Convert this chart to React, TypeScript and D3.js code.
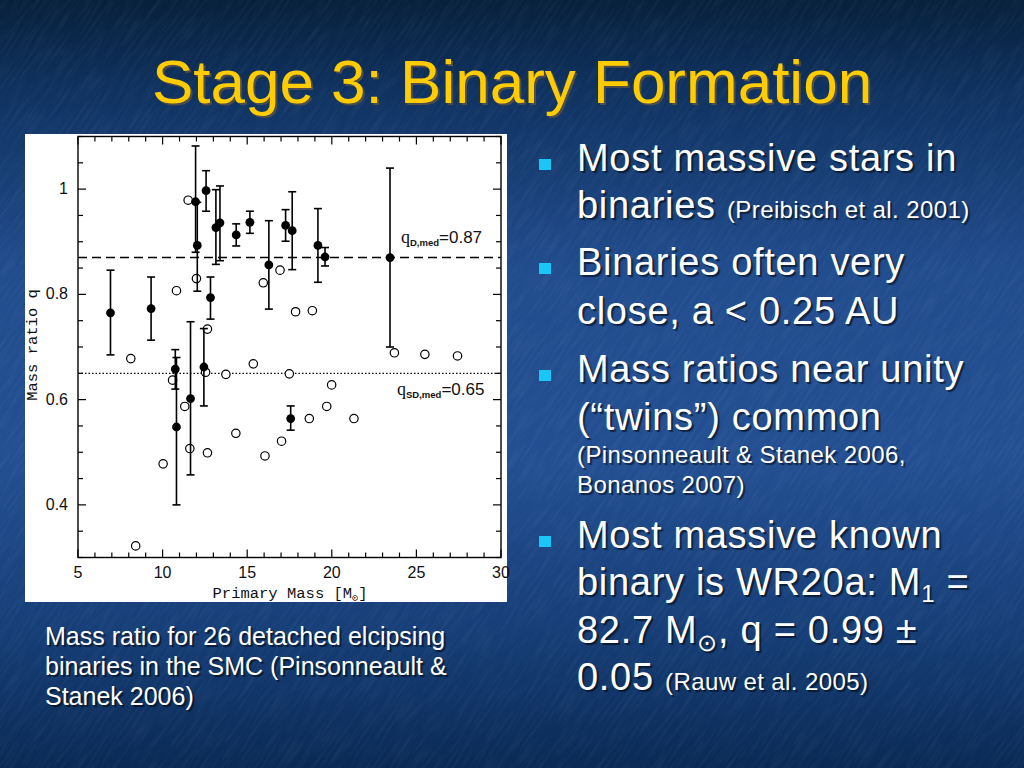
import * as d3 from "d3";

// detached eclipsing binaries with measured q (filled, with error bars)
const filledMass = [6.92, 9.32, 10.75, 10.82, 11.65, 11.95, 12.05, 12.44, 12.57, 12.83, 13.15, 13.39, 14.35, 15.16, 16.28, 17.27, 17.57, 17.66, 19.18, 19.6, 23.44];
const filledQ = [0.765, 0.773, 0.658, 0.548, 0.602, 0.976, 0.893, 0.662, 0.997, 0.794, 0.927, 0.936, 0.913, 0.937, 0.856, 0.931, 0.564, 0.921, 0.893, 0.871, 0.87];
const filledLo = [0.685, 0.713, 0.62, 0.4, 0.457, 0.88, 0.806, 0.588, 0.958, 0.753, 0.857, 0.864, 0.892, 0.916, 0.772, 0.901, 0.542, 0.847, 0.823, 0.854, 0.7];
const filledHi = [0.846, 0.833, 0.695, 0.68, 0.748, 1.082, 0.975, 0.735, 1.035, 0.833, 0.999, 1.006, 0.934, 0.958, 0.94, 0.961, 0.588, 0.995, 0.963, 0.889, 1.04];

// semi-detached systems (open circles)
const openMass = [11.51, 12.0, 10.82, 8.12, 12.65, 15.36, 15.95, 16.94, 17.86, 18.85, 23.7, 25.5, 27.43, 17.49, 10.59, 12.54, 13.74, 11.31, 14.33, 11.61, 12.65, 10.03, 8.41, 16.05, 19.99, 19.7, 18.67, 21.31, 17.03];
const openQ = [0.979, 0.83, 0.807, 0.678, 0.734, 0.668, 0.822, 0.846, 0.767, 0.769, 0.689, 0.686, 0.683, 0.649, 0.637, 0.652, 0.648, 0.587, 0.536, 0.507, 0.499, 0.478, 0.322, 0.493, 0.628, 0.587, 0.564, 0.564, 0.521];

const medianD = 0.87;
const medianSD = 0.65;

const xDomain = [5, 30];
const yDomain = [0.3, 1.1];

const sans = "'Liberation Sans', Arial, sans-serif";
const mono = "'Liberation Mono', 'Courier New', monospace";
const serif = "'Liberation Serif', 'Times New Roman', serif";

export default function App() {
  const x = d3.scaleLinear().domain(xDomain).range([78, 501]);
  const y = d3.scaleLinear().domain(yDomain).range([557.5, 136.5]);
  const [x0, x1] = x.range();
  const [y0, y1] = y.range();

  const xMinor = x.ticks(25);
  const xMajor = x.ticks(5);
  const yMinor = y.ticks(16);
  const yMajor = y.ticks(4);
  const isMajorX = (v: number) => xMajor.some((m) => Math.abs(m - v) < 1e-6);
  const isMajorY = (v: number) => yMajor.some((m) => Math.abs(m - v) < 1e-6);
  const fmtY = (v: number) => (Math.abs(v - 1) < 1e-6 ? "1" : v.toFixed(1));

  const cap = 4;
  const bullet = (yy: number) => (
    <rect x={539} y={yy - 12} width={12} height={11} fill="#19c6f5" />
  );
  const txt = { fill: "#ffffff", fontFamily: sans, style: { textShadow: "2px 2px 1px rgba(0,0,0,0.55)" } };

  return (
    <svg width={1024} height={768} style={{ position: "absolute", left: 0, top: 0 }}>
      <defs>
        <linearGradient id="bg" x1="0" y1="0" x2="0" y2="1">
          <stop offset="0" stopColor="#07203b" />
          <stop offset="0.12" stopColor="#0f3260" />
          <stop offset="0.35" stopColor="#214c8d" />
          <stop offset="0.6" stopColor="#234f92" />
          <stop offset="0.82" stopColor="#163e77" />
          <stop offset="1" stopColor="#0a2a55" />
        </linearGradient>
        <filter id="tex" x="0" y="0" width="100%" height="100%">
          <feTurbulence type="fractalNoise" baseFrequency="0.03 0.35" numOctaves="2" seed="7" />
          <feColorMatrix type="matrix" values="0 0 0 0 0.8  0 0 0 0 0.9  0 0 0 0 1  0 0 0 0.5 -0.2" />
        </filter>
      </defs>
      <rect width={1024} height={768} fill="url(#bg)" />
      <rect x={-400} y={-400} width={1824} height={1568} filter="url(#tex)" transform="rotate(-55 512 384)" opacity={0.22} />

      {/* title */}
      <text x={514} y={105} textAnchor="middle" fontSize={62} fontFamily={sans} fill="#4d4d4d">Stage 3: Binary Formation</text>
      <text x={512} y={103} textAnchor="middle" fontSize={62} fontFamily={sans} fill="#ffcc00">Stage 3: Binary Formation</text>

      {/* figure panel */}
      <rect x={25} y={134} width={482} height={468} fill="#ffffff" />
      <rect x={x0} y={y1} width={x1 - x0} height={y0 - y1} fill="none" stroke="#000" strokeWidth={1.4} />

      {xMinor.map((v) => {
        const len = isMajorX(v) ? 8 : 5;
        return (
          <g key={"xt" + v} stroke="#000" strokeWidth={1.2}>
            <line x1={x(v)} x2={x(v)} y1={y0} y2={y0 - len} />
            <line x1={x(v)} x2={x(v)} y1={y1} y2={y1 + len} />
          </g>
        );
      })}
      {yMinor.map((v) => {
        const len = isMajorY(v) ? 8 : 5;
        return (
          <g key={"yt" + v} stroke="#000" strokeWidth={1.2}>
            <line x1={x0} x2={x0 + len} y1={y(v)} y2={y(v)} />
            <line x1={x1} x2={x1 - len} y1={y(v)} y2={y(v)} />
          </g>
        );
      })}
      {xMajor.map((v) => (
        <text key={"xl" + v} x={x(v)} y={y0 + 20} textAnchor="middle" fontSize={16} fontFamily={sans} fill="#111">{v}</text>
      ))}
      {yMajor.map((v) => (
        <text key={"yl" + v} x={x0 - 10} y={y(v) + 5} textAnchor="end" fontSize={16} fontFamily={sans} fill="#111">{fmtY(v)}</text>
      ))}
      <text x={290} y={598} textAnchor="middle" fontSize={15.5} fontFamily={mono} fill="#111">
        Primary Mass [M<tspan fontSize={10} dy={3}>⊙</tspan><tspan dy={-3}>]</tspan>
      </text>
      <text transform="translate(37,345) rotate(-90)" textAnchor="middle" fontSize={15.5} fontFamily={mono} fill="#111">Mass ratio q</text>

      {/* medians */}
      <line x1={x0} x2={x1} y1={y(medianD)} y2={y(medianD)} stroke="#000" strokeWidth={1.6} strokeDasharray="9 5" />
      <line x1={x0} x2={x1} y1={y(medianSD)} y2={y(medianSD)} stroke="#000" strokeWidth={1.3} strokeDasharray="1.5 2" />
      <text x={401} y={243} fontSize={18} fontFamily={serif} fill="#111">
        q<tspan fontSize={9.5} fontWeight="bold" fontFamily={sans} dy={3}>D,med</tspan>
        <tspan dy={-3} fontFamily={sans} fontSize={17}>=0.87</tspan>
      </text>
      <text x={397} y={395} fontSize={18} fontFamily={serif} fill="#111">
        q<tspan fontSize={9.5} fontWeight="bold" fontFamily={sans} dy={3}>SD,med</tspan>
        <tspan dy={-3} fontFamily={sans} fontSize={17}>=0.65</tspan>
      </text>

      {/* open circles */}
      {openMass.map((m, i) => (
        <circle key={"o" + i} cx={x(m)} cy={y(openQ[i])} r={4.2} fill="#fff" stroke="#000" strokeWidth={1.2} />
      ))}

      {/* filled points with error bars */}
      {filledMass.map((m, i) => (
        <g key={"f" + i} stroke="#000" strokeWidth={1.6}>
          <line x1={x(m)} x2={x(m)} y1={y(filledLo[i])} y2={y(filledHi[i])} />
          <line x1={x(m) - cap} x2={x(m) + cap} y1={y(filledLo[i])} y2={y(filledLo[i])} />
          <line x1={x(m) - cap} x2={x(m) + cap} y1={y(filledHi[i])} y2={y(filledHi[i])} />
          <circle cx={x(m)} cy={y(filledQ[i])} r={4.4} fill="#000" stroke="none" />
        </g>
      ))}

      {/* caption */}
      <g {...txt} fontSize={25}>
        <text x={45} y={645}>Mass ratio for 26 detached elcipsing</text>
        <text x={45} y={675}>binaries in the SMC (Pinsonneault &amp;</text>
        <text x={45} y={705}>Stanek 2006)</text>
      </g>

      {/* bullet points */}
      <g {...txt} fontSize={38} letterSpacing={0.7}>
        {bullet(171)}
        <text x={577} y={171}>Most massive stars in</text>
        <text x={577} y={218}>binaries <tspan fontSize={24} letterSpacing={0.4}>(Preibisch et al. 2001)</tspan></text>
        {bullet(275)}
        <text x={577} y={275}>Binaries often very</text>
        <text x={577} y={324}>close, a &lt; 0.25 AU</text>
        {bullet(382)}
        <text x={577} y={382}>Mass ratios near unity</text>
        <text x={577} y={430}>(“twins”) common</text>
        <text x={577} y={463} fontSize={24} letterSpacing={0.4}>(Pinsonneault &amp; Stanek 2006,</text>
        <text x={577} y={493} fontSize={24} letterSpacing={0.4}>Bonanos 2007)</text>
        {bullet(548)}
        <text x={577} y={548}>Most massive known</text>
        <text x={577} y={595}>binary is WR20a: M<tspan fontSize={24} dy={7}>1</tspan><tspan dy={-7}> =</tspan></text>
        <text x={577} y={643}>82.7 M<tspan fontSize={24} dy={8}>⊙</tspan><tspan dy={-8}>, q = 0.99 ±</tspan></text>
        <text x={577} y={690}>0.05 <tspan fontSize={24} letterSpacing={0.4}>(Rauw et al. 2005)</tspan></text>
      </g>
    </svg>
  );
}
